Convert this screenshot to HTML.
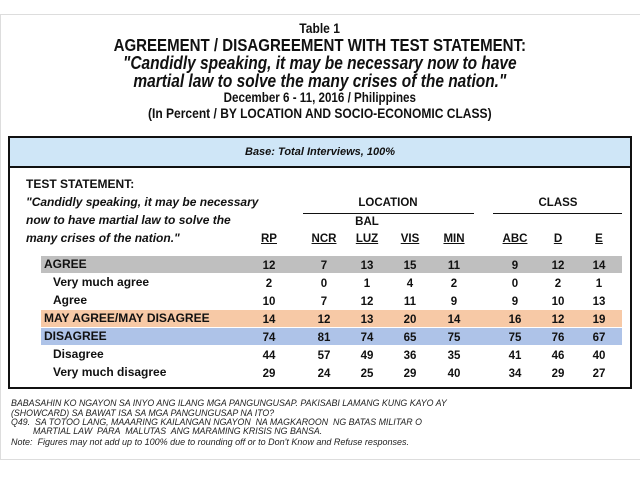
<!DOCTYPE html>
<html><head><meta charset="utf-8"><style>
body{margin:0;width:640px;height:480px;background:#fff;position:relative;overflow:hidden;font-family:"Liberation Sans",Arial,sans-serif;color:#111}
.a{position:absolute;white-space:nowrap}
.c{left:0;width:640px;text-align:center}
.t{display:inline-block;transform:scaleX(0.86);transform-origin:center}
.n{position:absolute;font-weight:bold;font-size:11.5px;line-height:17px;width:30px;text-align:center;margin-left:-15px}
.r .n{margin-top:2px}
.band{position:absolute;left:41px;width:581px;height:17px}
.lab{position:absolute;font-weight:bold;font-size:12px;line-height:17px;white-space:nowrap}
.f{position:absolute;left:11px;font-size:8.8px;font-style:italic;color:#222;line-height:10px;white-space:nowrap}
</style></head><body>
<div class="a" style="left:0;top:14px;width:639px;height:444px;border:1px solid #ddd;border-right:none"></div>
<div class="a c" style="top:20px;font-size:14px;font-weight:bold;line-height:16px"><span class="t">Table 1</span></div>
<div class="a c" style="top:37px;font-size:17.5px;font-weight:bold;line-height:17px"><span class="t">AGREEMENT / DISAGREEMENT WITH TEST STATEMENT:</span></div>
<div class="a c" style="top:55px;font-size:18px;font-weight:bold;font-style:italic;line-height:17px"><span class="t">"Candidly speaking, it may be necessary now to have</span></div>
<div class="a c" style="top:73px;font-size:18px;font-weight:bold;font-style:italic;line-height:17px"><span class="t">martial law to solve the many crises of the nation."</span></div>
<div class="a c" style="top:91px;font-size:13.5px;font-weight:bold;line-height:14px"><span class="t">December 6 - 11, 2016 / Philippines</span></div>
<div class="a c" style="top:106px;font-size:14px;font-weight:bold;line-height:14px"><span class="t">(In Percent / BY LOCATION AND SOCIO-ECONOMIC CLASS)</span></div>
<div class="a" style="left:8px;top:136px;width:620px;height:249px;border:2px solid #111"></div>
<div class="a" style="left:10px;top:138px;width:620px;height:28px;background:#cfe6f7;border-bottom:2px solid #111;text-align:center;font-size:11px;font-weight:bold;font-style:italic;line-height:28px">Base: Total Interviews, 100%</div>
<div class="lab" style="left:26px;top:176px">TEST STATEMENT:</div>
<div class="lab" style="left:26px;top:194px;font-style:italic">"Candidly speaking, it may be necessary</div>
<div class="lab" style="left:26px;top:212px;font-style:italic">now to have martial law to solve the</div>
<div class="lab" style="left:26px;top:230px;font-style:italic">many crises of the nation."</div>
<div class="a" style="left:303px;top:213px;width:171px;border-top:1px solid #111"></div>
<div class="a" style="left:493px;top:213px;width:129px;border-top:1px solid #111"></div>
<div class="n" style="left:388px;top:195px;width:80px;margin-left:-40px">LOCATION</div>
<div class="n" style="left:558px;top:195px;width:60px;margin-left:-30px">CLASS</div>
<div class="n" style="left:367px;top:214px">BAL</div>
<div class="n" style="left:269px;top:231px;text-decoration:underline">RP</div>
<div class="n" style="left:324px;top:231px;text-decoration:underline">NCR</div>
<div class="n" style="left:367px;top:231px;text-decoration:underline">LUZ</div>
<div class="n" style="left:410px;top:231px;text-decoration:underline">VIS</div>
<div class="n" style="left:454px;top:231px;text-decoration:underline">MIN</div>
<div class="n" style="left:515px;top:231px;text-decoration:underline">ABC</div>
<div class="n" style="left:558px;top:231px;text-decoration:underline">D</div>
<div class="n" style="left:599px;top:231px;text-decoration:underline">E</div>
<div class="band" style="top:256px;background:#bfbfbf"></div>
<div class="band" style="top:310px;background:#f7c9a6"></div>
<div class="band" style="top:328px;background:#aec3e8"></div>
<div class="lab" style="left:44px;top:256px">AGREE</div>
<div class="lab" style="left:53px;top:274px">Very much agree</div>
<div class="lab" style="left:53px;top:292px">Agree</div>
<div class="lab" style="left:44px;top:310px">MAY AGREE/MAY DISAGREE</div>
<div class="lab" style="left:44px;top:328px">DISAGREE</div>
<div class="lab" style="left:53px;top:346px">Disagree</div>
<div class="lab" style="left:53px;top:364px">Very much disagree</div>
<div class="f" style="top:398px">BABASAHIN KO NGAYON SA INYO ANG ILANG MGA PANGUNGUSAP. PAKISABI LAMANG KUNG KAYO AY</div>
<div class="f" style="top:408px">(SHOWCARD) SA BAWAT ISA SA MGA PANGUNGUSAP NA ITO?</div>
<div class="f" style="top:417px">Q49.&nbsp; SA TOTOO LANG, MAAARING KAILANGAN NGAYON&nbsp; NA MAGKAROON&nbsp; NG BATAS MILITAR O</div>
<div class="f" style="top:426px;left:33px">MARTIAL LAW&nbsp; PARA&nbsp; MALUTAS&nbsp; ANG MARAMING KRISIS NG BANSA.</div>
<div class="f" style="top:437px;font-size:9px">Note:&nbsp; Figures may not add up to 100% due to rounding off or to Don't Know and Refuse responses.</div>
<div class="r">
<div class="n" style="left:269px;top:256px">12</div><div class="n" style="left:324px;top:256px">7</div><div class="n" style="left:367px;top:256px">13</div><div class="n" style="left:410px;top:256px">15</div><div class="n" style="left:454px;top:256px">11</div><div class="n" style="left:515px;top:256px">9</div><div class="n" style="left:558px;top:256px">12</div><div class="n" style="left:599px;top:256px">14</div>
<div class="n" style="left:269px;top:274px">2</div><div class="n" style="left:324px;top:274px">0</div><div class="n" style="left:367px;top:274px">1</div><div class="n" style="left:410px;top:274px">4</div><div class="n" style="left:454px;top:274px">2</div><div class="n" style="left:515px;top:274px">0</div><div class="n" style="left:558px;top:274px">2</div><div class="n" style="left:599px;top:274px">1</div>
<div class="n" style="left:269px;top:292px">10</div><div class="n" style="left:324px;top:292px">7</div><div class="n" style="left:367px;top:292px">12</div><div class="n" style="left:410px;top:292px">11</div><div class="n" style="left:454px;top:292px">9</div><div class="n" style="left:515px;top:292px">9</div><div class="n" style="left:558px;top:292px">10</div><div class="n" style="left:599px;top:292px">13</div>
<div class="n" style="left:269px;top:310px">14</div><div class="n" style="left:324px;top:310px">12</div><div class="n" style="left:367px;top:310px">13</div><div class="n" style="left:410px;top:310px">20</div><div class="n" style="left:454px;top:310px">14</div><div class="n" style="left:515px;top:310px">16</div><div class="n" style="left:558px;top:310px">12</div><div class="n" style="left:599px;top:310px">19</div>
<div class="n" style="left:269px;top:328px">74</div><div class="n" style="left:324px;top:328px">81</div><div class="n" style="left:367px;top:328px">74</div><div class="n" style="left:410px;top:328px">65</div><div class="n" style="left:454px;top:328px">75</div><div class="n" style="left:515px;top:328px">75</div><div class="n" style="left:558px;top:328px">76</div><div class="n" style="left:599px;top:328px">67</div>
<div class="n" style="left:269px;top:346px">44</div><div class="n" style="left:324px;top:346px">57</div><div class="n" style="left:367px;top:346px">49</div><div class="n" style="left:410px;top:346px">36</div><div class="n" style="left:454px;top:346px">35</div><div class="n" style="left:515px;top:346px">41</div><div class="n" style="left:558px;top:346px">46</div><div class="n" style="left:599px;top:346px">40</div>
<div class="n" style="left:269px;top:364px">29</div><div class="n" style="left:324px;top:364px">24</div><div class="n" style="left:367px;top:364px">25</div><div class="n" style="left:410px;top:364px">29</div><div class="n" style="left:454px;top:364px">40</div><div class="n" style="left:515px;top:364px">34</div><div class="n" style="left:558px;top:364px">29</div><div class="n" style="left:599px;top:364px">27</div>
</div>
</body></html>
